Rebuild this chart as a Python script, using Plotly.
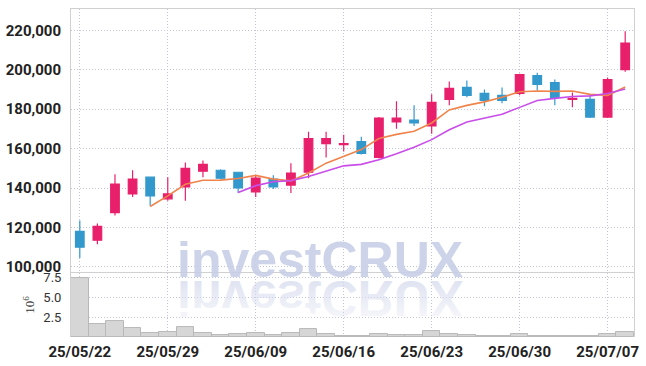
import plotly.graph_objects as go

dates = ["25/05/22", "25/05/23", "25/05/26", "25/05/27", "25/05/28", "25/05/29", "25/05/30",
         "25/06/02", "25/06/04", "25/06/05", "25/06/09", "25/06/10", "25/06/11", "25/06/12",
         "25/06/13", "25/06/16", "25/06/17", "25/06/18", "25/06/19", "25/06/20", "25/06/23",
         "25/06/24", "25/06/25", "25/06/26", "25/06/27", "25/06/30", "25/07/01", "25/07/02",
         "25/07/03", "25/07/04", "25/07/07", "25/07/08"]

open_ = [118000, 113500, 127500, 137000, 145500, 134500, 140500, 148500, 149000, 148000, 138000,
         144500, 141500, 148000, 162500, 162000, 163500, 155500, 173500, 174500, 171500, 185000,
         191000, 188000, 187000, 188000, 197000, 193500, 185000, 185000, 176000, 200000]
high = [123500, 122000, 147000, 149000, 145500, 145500, 153000, 154000, 149500, 148000, 146500,
        146500, 152500, 168500, 168500, 167000, 166000, 176000, 184000, 182000, 187500, 194000,
        194500, 190000, 191000, 198000, 198500, 195000, 188500, 187000, 196000, 219500]
low = [104500, 111500, 126000, 135500, 131000, 133500, 133500, 145500, 144500, 137500, 135500,
       139500, 137500, 145000, 155500, 158500, 157000, 155000, 170000, 171500, 167500, 182000,
       186000, 181500, 183000, 187000, 189500, 182000, 181000, 175500, 175500, 199000]
close = [110000, 120500, 142000, 144500, 136000, 137000, 150000, 152000, 145000, 140000, 145000,
         140500, 147500, 165000, 165000, 162500, 157500, 175500, 175500, 173000, 183500, 190500,
         187000, 184500, 184500, 197500, 192500, 186000, 185500, 176000, 195000, 213500]

ma5 = [None, None, None, None, 130600, 136000, 141900, 143900, 144000, 144800, 146400, 144500,
       143600, 147600, 152600, 156100, 159500, 165100, 167200, 168800, 173000, 179600, 181900,
       183700, 186000, 188800, 189200, 189000, 189200, 187500, 187000, 191200]
ma10 = [None, None, None, None, None, None, None, None, None, 137700, 141200, 143200, 143750,
        145800, 148700, 151250, 152000, 154350, 157400, 160700, 164550, 169550, 173500, 175450,
        177400, 180900, 184400, 185450, 186450, 186750, 187900, 190200]

volume_m = [7.34, 1.63, 2.0, 1.09, 0.5, 0.63, 1.2, 0.5, 0.2, 0.37, 0.5, 0.2, 0.5, 0.96, 0.37,
            0.12, 0.1, 0.37, 0.25, 0.25, 0.75, 0.37, 0.2, 0.1, 0.1, 0.37, 0.1, 0.1, 0.1, 0.1,
            0.37, 0.63]

xtick_labels = ["25/05/22", "25/05/29", "25/06/09", "25/06/16", "25/06/23", "25/06/30", "25/07/07"]
price_ticks = [100000, 120000, 140000, 160000, 180000, 200000, 220000]
vol_ticks = [2.5, 5.0, 7.5]

UP = "#e8206b"
DOWN = "#3399cc"
GRID = "#c0c6da"
DASH = "1px,2px"
TICKFONT = dict(family="Roboto, sans-serif", size=15, color="#222222", weight="bold")

fig = go.Figure()
fig.add_trace(go.Candlestick(
    x=dates, open=open_, high=high, low=low, close=close,
    increasing=dict(line=dict(color=UP, width=1.2), fillcolor=UP),
    decreasing=dict(line=dict(color=DOWN, width=1.2), fillcolor=DOWN),
    xaxis="x", yaxis="y", showlegend=False, whiskerwidth=0,
))
fig.add_trace(go.Scatter(x=dates, y=ma5, mode="lines", line=dict(color="#f0844c", width=1.6),
                         xaxis="x", yaxis="y", showlegend=False))
fig.add_trace(go.Scatter(x=dates, y=ma10, mode="lines", line=dict(color="#c94de8", width=1.6),
                         xaxis="x", yaxis="y", showlegend=False))
fig.add_trace(go.Bar(x=dates, y=volume_m, marker=dict(color="#d6d6d6", line=dict(color="#b8b8b8", width=1)),
                     xaxis="x2", yaxis="y2", showlegend=False))

fig.update_layout(
    width=646, height=366,
    margin=dict(l=71, r=12, t=9, b=29, autoexpand=False),
    paper_bgcolor="white", plot_bgcolor="white",
    bargap=0,
    xaxis=dict(type="category", domain=[0, 1], anchor="y", range=[-0.5, 31.5], automargin=False,
               rangeslider=dict(visible=False), showticklabels=False,
               tickvals=xtick_labels, showgrid=True, gridcolor=GRID, griddash=DASH,
               showline=True, mirror=True, linecolor="#d0d0d0", linewidth=1, ticks=""),
    yaxis=dict(domain=[0.197, 1], anchor="x", range=[97200, 230800], tickvals=price_ticks,
               automargin=False,
               tickformat=",d", tickfont=TICKFONT, showgrid=True, gridcolor=GRID, griddash=DASH,
               showline=True, mirror=True, linecolor="#d0d0d0", linewidth=1, zeroline=False,
               ticks="", ticklabelstandoff=6),
    xaxis2=dict(type="category", domain=[0, 1], anchor="y2", matches="x", range=[-0.5, 31.5],
                automargin=False,
                tickvals=xtick_labels, tickfont=TICKFONT, showgrid=True, gridcolor=GRID,
                griddash=DASH, showline=False, ticks="", ticklabelstandoff=4),
    yaxis2=dict(domain=[0, 0.195], anchor="x2", range=[0, 8.0], tickvals=vol_ticks,
                automargin=False,
                tickformat=".1f", tickfont=dict(family="Roboto, sans-serif", size=13, color="#333333"),
                showgrid=True, gridcolor=GRID, griddash=DASH, showline=True, mirror=True,
                linecolor="#d0d0d0", linewidth=1, zeroline=False, ticks="", ticklabelstandoff=6,
                title=dict(text="10<sup>6</sup>", font=dict(family="Liberation Serif, serif", size=13, color="#333333"),
                           standoff=5)),
    annotations=[
        dict(text="investCRUX", xref="paper", yref="paper", x=0.443, y=0.236, xanchor="center",
             yanchor="middle", showarrow=False,
             font=dict(family="Liberation Sans, Arial, sans-serif", size=50, color="rgba(198,205,230,0.88)", weight="bold")),
        dict(text="investCRUX", xref="paper", yref="paper", x=0.443, y=0.118, xanchor="center",
             yanchor="middle", showarrow=False,
             font=dict(family="Liberation Sans, Arial, sans-serif", size=50, color="rgba(205,211,232,0.8)", weight="bold")),
    ],
)

post = """
document.body.style.margin = '0';
document.body.style.padding = '0';
var gd = document.getElementById('{plot_id}');
function flipWm(){
  var ns = 'http://www.w3.org/2000/svg';
  if (!document.getElementById('wmgrad')) {
    var defs = document.createElementNS(ns, 'defs');
    var lg = document.createElementNS(ns, 'linearGradient');
    lg.setAttribute('id', 'wmgrad'); lg.setAttribute('x1', '0'); lg.setAttribute('y1', '0');
    lg.setAttribute('x2', '0'); lg.setAttribute('y2', '1');
    var s1 = document.createElementNS(ns, 'stop'); s1.setAttribute('offset', '0');
    s1.setAttribute('stop-color', 'rgb(214,219,237)'); s1.setAttribute('stop-opacity', '0.15');
    var s2 = document.createElementNS(ns, 'stop'); s2.setAttribute('offset', '0.85');
    s2.setAttribute('stop-color', 'rgb(214,219,237)'); s2.setAttribute('stop-opacity', '1');
    lg.appendChild(s1); lg.appendChild(s2); defs.appendChild(lg);
    var svgs = gd.querySelectorAll('svg.main-svg');
    svgs[svgs.length-1].appendChild(defs);
  }
  var a = gd.querySelector('g.annotation[data-index="1"] text.annotation-text');
  if (!a) return;
  var bb = a.getBBox();
  var cy = bb.y + bb.height / 2;
  a.setAttribute('transform', 'translate(0,' + (2 * cy) + ') scale(1,-1)');
  a.style.fill = 'url(#wmgrad)';
}
flipWm();
"""
fig.write_html("out.html", post_script=post, config={"displayModeBar": False})
